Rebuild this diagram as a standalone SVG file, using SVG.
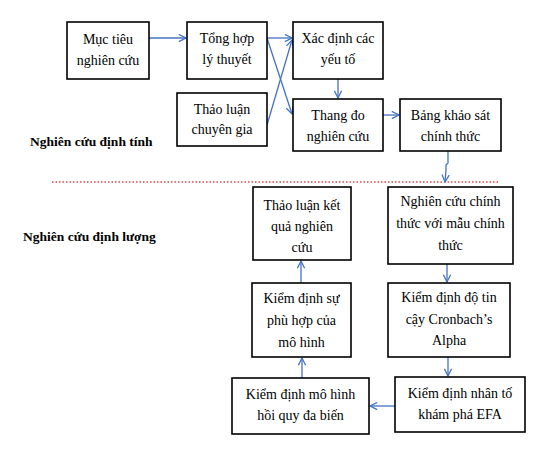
<svg xmlns="http://www.w3.org/2000/svg" width="541" height="450" viewBox="0 0 541 450">
<style>
.box{fill:#fff;stroke:#000;stroke-width:1.6}
.t{font-family:"Liberation Serif","Times New Roman",serif;font-size:14px;fill:#000;text-anchor:middle}
.lbl{font-family:"Liberation Serif","Times New Roman",serif;font-size:13.5px;font-weight:bold;fill:#000}
.c{fill:none;stroke:#4472C4;stroke-width:1.3;marker-end:url(#ah)}
</style>
<defs>
<marker id="ah" viewBox="0 0 10 10" refX="9" refY="5" markerWidth="9" markerHeight="9" markerUnits="userSpaceOnUse" orient="auto">
<path d="M1,1 L9,5 L1,9" fill="none" stroke="#4472C4" stroke-width="1.4"/>
</marker>
</defs>
<rect width="541" height="450" fill="#fff"/>
<text class="lbl" x="30" y="146">Nghiên cứu định tính</text>
<text class="lbl" x="23" y="241">Nghiên cứu định lượng</text>
<line x1="52" y1="182" x2="500" y2="182" stroke="#E0474C" stroke-width="1.5" stroke-dasharray="1.5 2"/>
<g id="connectors">
<path class="c" d="M149,38 L186,38"/>
<path class="c" d="M267,38 L292,38"/>
<path class="c" d="M267,38 L292,114"/>
<path class="c" d="M267,125 L292,40"/>
<path class="c" d="M338,79 L338,98"/>
<path class="c" d="M383,115 L399,115"/>
<path class="c" d="M448,151 L448,163 L446,165 L446,170 L445,182"/>
<path class="c" d="M447,264 L447,282"/>
<path class="c" d="M448,357 L448,376"/>
<path class="c" d="M395,406 L370,406"/>
<path class="c" d="M302,378 L302,358"/>
<path class="c" d="M301,283 L301,261"/>
</g>
<g id="muc-tieu"><rect class="box" x="67" y="22" width="82" height="57"/><text class="t" x="108" y="44">Mục tiêu</text><text class="t" x="108" y="65">nghiên cứu</text></g>
<g id="tong-hop"><rect class="box" x="187" y="22" width="80" height="57"/><text class="t" x="227" y="43">Tổng hợp</text><text class="t" x="227" y="64">lý thuyết</text></g>
<g id="thao-luan-cg"><rect class="box" x="177" y="93" width="90" height="53"/><text class="t" x="222" y="114">Thảo luận</text><text class="t" x="222" y="134">chuyên gia</text></g>
<g id="xac-dinh"><rect class="box" x="293" y="22" width="90" height="57"/><text class="t" x="338" y="43">Xác định các</text><text class="t" x="338" y="64">yếu tố</text></g>
<g id="thang-do"><rect class="box" x="293" y="99" width="90" height="52"/><text class="t" x="338" y="120">Thang đo</text><text class="t" x="338" y="141">nghiên cứu</text></g>
<g id="bang-khao-sat"><rect class="box" x="400" y="99" width="101" height="52"/><text class="t" x="450.5" y="120">Bảng khảo sát</text><text class="t" x="450.5" y="141">chính thức</text></g>
<g id="nc-chinh-thuc"><rect class="box" x="388" y="187" width="125" height="77"/><text class="t" x="450.5" y="206">Nghiên cứu chính</text><text class="t" x="450.5" y="228">thức với mẫu chính</text><text class="t" x="450.5" y="250">thức</text></g>
<g id="tl-ket-qua"><rect class="box" x="253" y="187" width="98" height="73"/><text class="t" x="302" y="210">Thảo luận kết</text><text class="t" x="302" y="231">quả nghiên</text><text class="t" x="302" y="252">cứu</text></g>
<g id="kd-tin-cay"><rect class="box" x="388" y="283" width="122" height="74"/><text class="t" x="449" y="302">Kiểm định độ tin</text><text class="t" x="449" y="324">cậy Cronbach’s</text><text class="t" x="449" y="345">Alpha</text></g>
<g id="kd-phu-hop"><rect class="box" x="252" y="283" width="99" height="74"/><text class="t" x="301.5" y="303">Kiểm định sự</text><text class="t" x="301.5" y="325">phù hợp của</text><text class="t" x="301.5" y="347">mô hình</text></g>
<g id="kd-efa"><rect class="box" x="395" y="377" width="130" height="55"/><text class="t" x="460" y="398">Kiểm định nhân tố</text><text class="t" x="460" y="419">khám phá EFA</text></g>
<g id="kd-hoi-quy"><rect class="box" x="232" y="378" width="137" height="56"/><text class="t" x="300.5" y="399">Kiểm định mô hình</text><text class="t" x="300.5" y="420">hồi quy đa biến</text></g>
</svg>
